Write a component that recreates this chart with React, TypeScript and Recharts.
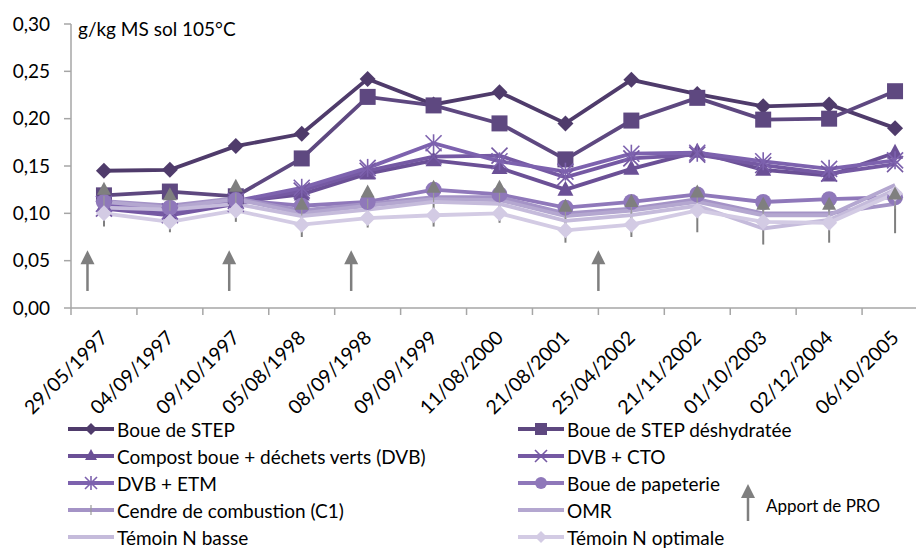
import { ComposedChart, Line, Bar, XAxis, YAxis, ReferenceLine } from 'recharts'

const dates = [
  '29/05/1997', '04/09/1997', '09/10/1997', '05/08/1998', '08/09/1998', '09/09/1999', '11/08/2000',
  '21/08/2001', '25/04/2002', '21/11/2002', '01/10/2003', '02/12/2004', '06/10/2005',
]

const boueStep = [0.145, 0.146, 0.171, 0.184, 0.242, 0.215, 0.228, 0.195, 0.241, 0.226, 0.213, 0.215, 0.19]
const boueDeshy = [0.119, 0.123, 0.118, 0.158, 0.223, 0.214, 0.195, 0.157, 0.198, 0.222, 0.199, 0.2, 0.229]
const compost = [0.108, 0.1, 0.112, 0.12, 0.142, 0.156, 0.148, 0.125, 0.147, 0.165, 0.146, 0.14, 0.164]
const dvbCto = [0.105, 0.098, 0.11, 0.124, 0.145, 0.16, 0.161, 0.138, 0.158, 0.162, 0.151, 0.142, 0.152]
const dvbEtm = [0.11, 0.102, 0.113, 0.127, 0.148, 0.174, 0.155, 0.144, 0.163, 0.164, 0.155, 0.147, 0.156]
const papeterie = [0.112, 0.106, 0.114, 0.108, 0.112, 0.125, 0.12, 0.106, 0.112, 0.12, 0.112, 0.115, 0.117]
const cendre = [0.113, 0.108, 0.116, 0.103, 0.11, 0.117, 0.117, 0.1, 0.105, 0.115, 0.1, 0.1, 0.11]
const omr = [0.112, 0.106, 0.115, 0.1, 0.108, 0.115, 0.114, 0.097, 0.103, 0.112, 0.098, 0.098, 0.13]
const temoinBasse = [0.106, 0.104, 0.11, 0.097, 0.104, 0.112, 0.11, 0.092, 0.098, 0.108, 0.084, 0.093, 0.125]
const temoinOpt = [0.1, 0.091, 0.103, 0.088, 0.095, 0.098, 0.1, 0.082, 0.088, 0.103, 0.091, 0.09, 0.121]

// grey range marks (triangle on top, thin bar down to the low value)
const greyTop = [0.125, 0.119, 0.128, 0.109, 0.122, 0.127, 0.127, 0.107, 0.112, 0.122, 0.109, 0.109, 0.12]
const greyLow = [0.086, 0.08, 0.091, 0.075, 0.085, 0.086, 0.09, 0.069, 0.075, 0.08, 0.067, 0.069, 0.079]

// "Apport de PRO" arrows, positions in category index units
const arrowPositions = [-0.25, 1.9, 3.75, 7.5]
const arrowBase = 0.018
const arrowTip = 0.061

const yTicks = [0, 0.05, 0.1, 0.15, 0.2, 0.25, 0.3]

const series = [
  { key: 'boueStep', name: 'Boue de STEP', values: boueStep, color: '#4F3B6B', marker: 'diamond' },
  { key: 'boueDeshy', name: 'Boue de STEP déshydratée', values: boueDeshy, color: '#5E4880', marker: 'square' },
  { key: 'compost', name: 'Compost boue + déchets verts (DVB)', values: compost, color: '#6B5096', marker: 'triangle' },
  { key: 'dvbCto', name: 'DVB + CTO', values: dvbCto, color: '#7559A3', marker: 'cross' },
  { key: 'dvbEtm', name: 'DVB + ETM', values: dvbEtm, color: '#7D62AE', marker: 'star' },
  { key: 'papeterie', name: 'Boue de papeterie', values: papeterie, color: '#8F78BA', marker: 'circle' },
  { key: 'cendre', name: 'Cendre de combustion (C1)', values: cendre, color: '#A493C6', marker: 'plus' },
  { key: 'omr', name: 'OMR', values: omr, color: '#B4A7D0', marker: 'none' },
  { key: 'temoinBasse', name: 'Témoin N basse', values: temoinBasse, color: '#C5BBDB', marker: 'none' },
  { key: 'temoinOpt', name: 'Témoin N optimale', values: temoinOpt, color: '#D3CBE4', marker: 'diamond' },
]

const data = dates.map((date, i) => {
  const row: Record<string, any> = { date, greyTop: greyTop[i], greyLow: greyLow[i] }
  series.forEach(s => { row[s.key] = s.values[i] })
  return row
})

const CHART_W = 960
const CHART_H = 420
const MARGIN = { top: 24, right: 32, left: 0, bottom: 0 }
const Y_AXIS_W = 71
const BAND = (CHART_W - MARGIN.left - MARGIN.right - Y_AXIS_W) / dates.length
const FONT = 'Lato, "Open Sans", sans-serif'
const GREY = '#7F7F7F'
const AXIS = '#A6A6A6'

function drawMarker(kind: string, cx: number, cy: number, color: string, s = 8) {
  switch (kind) {
    case 'diamond':
      return <polygon points={`${cx},${cy - s} ${cx + s},${cy} ${cx},${cy + s} ${cx - s},${cy}`} fill={color} />
    case 'square':
      return <rect x={cx - s} y={cy - s} width={s * 2} height={s * 2} fill={color} />
    case 'triangle':
      return <polygon points={`${cx},${cy - s - 1} ${cx + s},${cy + s - 2} ${cx - s},${cy + s - 2}`} fill={color} />
    case 'cross':
      return (
        <g stroke={color} strokeWidth={1.6}>
          <line x1={cx - s} y1={cy - s} x2={cx + s} y2={cy + s} />
          <line x1={cx - s} y1={cy + s} x2={cx + s} y2={cy - s} />
        </g>
      )
    case 'star':
      return (
        <g stroke={color} strokeWidth={1.6}>
          <line x1={cx - s} y1={cy - s} x2={cx + s} y2={cy + s} />
          <line x1={cx - s} y1={cy + s} x2={cx + s} y2={cy - s} />
          <line x1={cx} y1={cy - s - 1} x2={cx} y2={cy + s + 1} />
        </g>
      )
    case 'circle':
      return <circle cx={cx} cy={cy} r={s} fill={color} />
    case 'plus':
      return <line x1={cx} y1={cy - 5} x2={cx} y2={cy + 5} stroke="#9A9A9A" strokeWidth={1.2} />
    default:
      return null
  }
}

function DateTick(props: any) {
  const { x, y, payload, index } = props
  const half = BAND / 2
  const tx = x + 5
  const ty = y + 31
  return (
    <g>
      <line x1={x - half} y1={y} x2={x - half} y2={y + 7} stroke={AXIS} strokeWidth={1.5} />
      {index === dates.length - 1 && (
        <line x1={x + half} y1={y} x2={x + half} y2={y + 7} stroke={AXIS} strokeWidth={1.5} />
      )}
      <text x={tx} y={ty} transform={`rotate(-45, ${tx}, ${ty})`} textAnchor="end" fontSize={19.5} fill="#000">
        {payload.value}
      </text>
    </g>
  )
}

function ArrowShape(props: any) {
  const { x1, y1, x2, y2 } = props
  return (
    <g>
      <line x1={x1} y1={y1} x2={x2} y2={y2 + 10} stroke={GREY} strokeWidth={2.5} />
      <polygon points={`${x2},${y2} ${x2 + 7},${y2 + 14} ${x2 - 7},${y2 + 14}`} fill={GREY} />
    </g>
  )
}

function GreyRange(props: any) {
  const { x, y, width, height } = props
  const cx = x + width / 2
  return <line x1={cx} y1={y} x2={cx} y2={y + height} stroke={GREY} strokeWidth={2} />
}

function Legend() {
  const rowY = (r: number) => 429 + r * 27
  return (
    <svg width={916} height={549} style={{ position: 'absolute', left: 0, top: 0, pointerEvents: 'none' }}>
      {series.map((s, i) => {
        const col = i % 2
        const row = Math.floor(i / 2)
        const x0 = col === 0 ? 68 : 518
        const cy = rowY(row)
        return (
          <g key={s.key}>
            <line x1={x0} y1={cy} x2={x0 + 46} y2={cy} stroke={s.color} strokeWidth={4} />
            {drawMarker(s.marker, x0 + 23, cy, s.color, 6)}
            <text x={x0 + 49} y={cy} dominantBaseline="central" fontSize={19} fill="#000" fontFamily={FONT}>
              {s.name}
            </text>
          </g>
        )
      })}
      <line x1={748} y1={521} x2={748} y2={494} stroke={GREY} strokeWidth={2.5} />
      <polygon points="748,484 755,498 741,498" fill={GREY} />
      <text x={766} y={505} dominantBaseline="central" fontSize={17} fill="#000" fontFamily={FONT}>
        Apport de PRO
      </text>
    </svg>
  )
}

export default function App() {
  return (
    <div
      style={{
        position: 'fixed', left: 0, top: 0, width: 916, height: 549, overflow: 'hidden',
        background: '#fff', fontFamily: FONT,
      }}
    >
      <ComposedChart width={CHART_W} height={CHART_H} data={data} margin={MARGIN}>
        <XAxis
          dataKey="date"
          height={112}
          interval={0}
          tick={<DateTick />}
          tickLine={false}
          tickSize={0}
          tickMargin={0}
          axisLine={{ stroke: AXIS, strokeWidth: 1.5 }}
        />
        <XAxis
          xAxisId="pos"
          type="number"
          domain={[0, dates.length - 1]}
          padding={{ left: BAND / 2, right: BAND / 2 }}
          hide
        />
        <YAxis
          width={Y_AXIS_W}
          domain={[0, 0.3]}
          ticks={yTicks}
          interval={0}
          tickFormatter={(v: number) => v.toFixed(2).replace('.', ',')}
          tick={{ fill: '#000', fontSize: 19 }}
          tickSize={7}
          tickMargin={14}
          tickLine={{ stroke: AXIS, strokeWidth: 1.5 }}
          axisLine={{ stroke: AXIS, strokeWidth: 1.5 }}
        />
        <Bar
          dataKey={(d: any) => [d.greyLow, d.greyTop]}
          barSize={2}
          shape={<GreyRange />}
          isAnimationActive={false}
          legendType="none"
        />
        {series.map(s => (
          <Line
            key={s.key}
            dataKey={s.key}
            name={s.name}
            stroke={s.color}
            strokeWidth={3.8}
            isAnimationActive={false}
            activeDot={false}
            dot={(p: any) => (
              <g key={`${s.key}-${p.index}`}>{p.cy == null ? null : drawMarker(s.marker, p.cx, p.cy, s.color)}</g>
            )}
          />
        ))}
        <Line
          dataKey="greyTop"
          stroke="none"
          isAnimationActive={false}
          activeDot={false}
          legendType="none"
          dot={(p: any) => (
            <g key={`gt-${p.index}`}>{p.cy == null ? null : drawMarker('triangle', p.cx, p.cy, GREY, 7)}</g>
          )}
        />
        {arrowPositions.map((pos, i) => (
          <ReferenceLine
            key={i}
            xAxisId="pos"
            ifOverflow="visible"
            segment={[{ x: pos, y: arrowBase }, { x: pos, y: arrowTip }]}
            shape={ArrowShape}
          />
        ))}
      </ComposedChart>
      <div style={{ position: 'absolute', left: 78, top: 17, fontSize: 19, color: '#000' }}>g/kg MS sol 105°C</div>
      <Legend />
    </div>
  )
}
